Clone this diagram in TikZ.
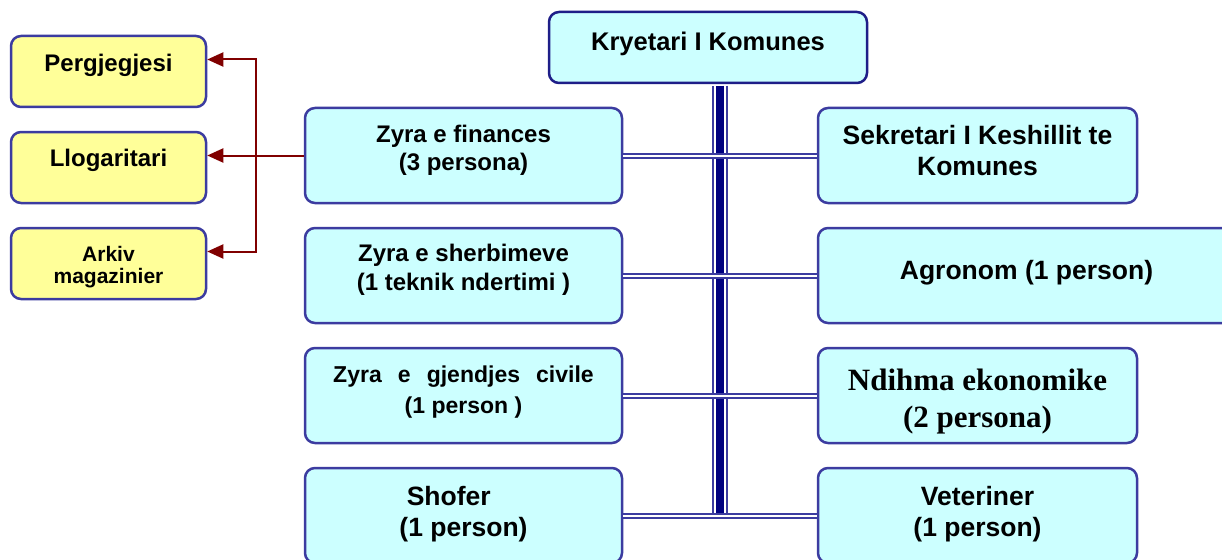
\documentclass[tikz,border=0pt]{standalone}
\usepackage{fontspec}
\setmainfont{Liberation Sans}
\newfontfamily\serifbf{Liberation Serif}
\usetikzlibrary{arrows.meta,calc}

\definecolor{boxfill}{HTML}{CCFFFF}
\definecolor{yelfill}{HTML}{FFFF99}
\definecolor{boxline}{HTML}{3C3CA0}
\definecolor{topline}{HTML}{1E1E88}
\definecolor{trunkblue}{HTML}{000080}
\definecolor{darkred}{HTML}{800000}

\newcommand{\setfs}[2]{\fontsize{#1}{#2}\selectfont\bfseries}

\tikzset{
  office/.style={draw=boxline, line width=2.5pt, fill=boxfill, rounded corners=10pt,
    minimum width=317pt, minimum height=95pt, inner sep=0pt},
  helper/.style={office, fill=yelfill, minimum width=195pt, minimum height=71pt},
  txt/.style={align=center, inner sep=0pt, font=\setfs{24}{28}},
  branch/.style={draw=boxline, line width=2pt, double=white, double distance=2pt},
  redarrow/.style={draw=darkred, line width=2pt, -{Triangle[length=16pt,width=14pt]}},
}

\begin{document}
\begin{tikzpicture}[x=1pt,y=-1pt]
  \useasboundingbox[fill=white] (0,0) rectangle (1222,559);

  % top
  \node[office, draw=topline, minimum width=318pt, minimum height=71pt,
    label={[txt,font=\setfs{25.5}{30},yshift=4pt]center:Kryetari I Komunes}] (kry) at (708,47.5) {};

  % helpers of the finance office
  \node[helper, label={[txt,yshift=5.8pt]center:Pergjegjesi}] (perg) at (108.5,71.5) {};
  \node[helper, label={[txt,yshift=7pt]center:Llogaritari}] (llog) at (108.5,167.5) {};
  \node[helper, label={[txt,font=\setfs{21}{22},yshift=-3.3pt]center:{Arkiv\\magazinier}}] (ark) at (108.5,263.5) {};

  % left column
  \node[office, label={[txt,yshift=5pt]center:{Zyra e finances\\(3 persona)}}] (fin) at (463.5,155.5) {};
  \node[office, label={[txt,font=\setfs{24}{28.5},yshift=5.9pt]center:{Zyra e sherbimeve\\(1 teknik ndertimi )}}] (sher) at (463.5,275.5) {};
  \node[office, label={[txt,font=\setfs{23}{30.6},yshift=3.5pt]center:{Zyra\hspace{0.7em}e\hspace{0.7em}gjendjes\hspace{0.7em}civile\\(1 person )}}] (civ) at (463.5,395.5) {};
  \node[office, label={[txt,align=left,font=\setfs{26.5}{31.7},yshift=1.5pt]center:{\ Shofer\\(1 person)}}] (shof) at (463.5,515.5) {};

  % right column
  \node[office, minimum width=319pt, label={[txt,font=\setfs{26.5}{31},yshift=4.6pt]center:{Sekretari I Keshillit te\\Komunes}}] (sek) at (977.5,155.5) {};
  \node[office, minimum width=417pt, label={[txt,font=\setfs{26.5}{31},yshift=2.3pt]center:Agronom (1 person)}] (agr) at (1026.5,275.5) {};
  \node[office, minimum width=319pt, label={[txt,font=\serifbf\setfs{31}{36.5},yshift=-6pt]center:{Ndihma ekonomike\\(2 persona)}}] (ndi) at (977.5,395.5) {};
  \node[office, minimum width=319pt, label={[txt,font=\setfs{26.5}{31},yshift=1pt]center:{Veteriner\\(1 person)}}] (vet) at (977.5,515.5) {};

  % trunk
  \coordinate (trunkend) at (720.3,518);
  \coordinate (trunktop) at ($(kry.south -| trunkend)+(0,1.5)$);
  \draw[boxline, line width=16pt] (trunktop) -- (trunkend);
  \draw[white, line width=12pt] (trunktop) -- (trunkend);
  \draw[trunkblue, line width=8pt] (trunktop) -- (trunkend);

  % branches
  \draw[branch] (fin.east) -- (sek.west);
  \draw[branch] (sher.east) -- (agr.west);
  \draw[branch] (civ.east) -- (ndi.west);
  \draw[branch] (shof.east) -- (vet.west);

  % finance links
  \coordinate (split) at (255.5,155.5);
  \draw[darkred, line width=2pt] (fin.west) -- (split);
  \draw[redarrow] (split) -- ([yshift=12pt]llog.east);
  \draw[redarrow] (split) |- ([yshift=12pt]perg.east);
  \draw[redarrow] (split) |- ([yshift=12pt]ark.east);
\end{tikzpicture}
\end{document}
